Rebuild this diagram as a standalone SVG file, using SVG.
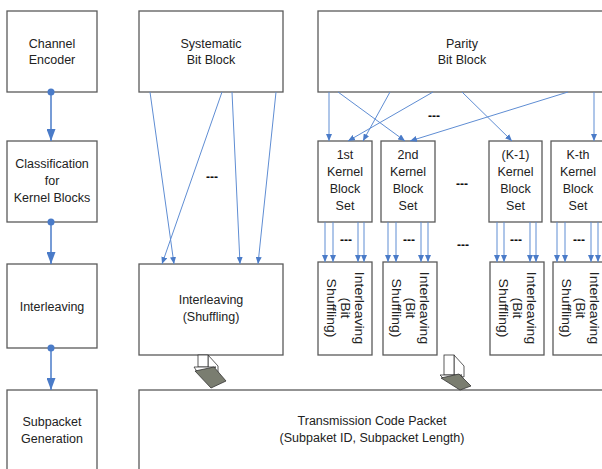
<svg xmlns="http://www.w3.org/2000/svg" width="602" height="469" viewBox="0 0 602 469">
<style>
.box{fill:#fff;stroke:#5a5a5a;stroke-width:1.3}
.t{font-family:"Liberation Sans",Arial,sans-serif;font-size:12.5px;fill:#222;text-anchor:middle}
.d{font-family:"Liberation Sans",Arial,sans-serif;font-size:12px;font-weight:bold;fill:#111;text-anchor:middle}
.c{stroke:#5f8dd3;stroke-width:1;fill:none;marker-end:url(#a)}
.m{stroke:#4a7bc8;stroke-width:1.5;fill:none;marker-end:url(#b)}
.f3{fill:#fff;stroke:#333;stroke-width:0.8}
.dk{fill:#7a7d70;stroke:#333;stroke-width:0.8}
</style>
<defs>
<marker id="a" viewBox="0 0 7 6" refX="7" refY="3" markerWidth="7" markerHeight="6" orient="auto" markerUnits="userSpaceOnUse"><path d="M0,0L7,3L0,6z" fill="#4a7bc8"/></marker>
<marker id="b" viewBox="0 0 12 9" refX="12" refY="4.5" markerWidth="12" markerHeight="9" orient="auto" markerUnits="userSpaceOnUse"><path d="M0,0L12,4.5L0,9z" fill="#4a7bc8"/></marker>
</defs>
<rect width="602" height="469" fill="#fff"/>

<g id="channel-encoder"><rect class="box" x="7" y="11" width="90" height="81"/>
<text class="t" x="52" y="47.7">Channel</text><text class="t" x="52" y="64.3">Encoder</text></g>
<g id="classification"><rect class="box" x="7" y="141" width="90" height="81"/>
<text class="t" x="52" y="168.3">Classification</text><text class="t" x="52" y="185.3">for</text><text class="t" x="52" y="202.3">Kernel Blocks</text></g>
<g id="interleaving"><rect class="box" x="7" y="264" width="90" height="84"/>
<text class="t" x="52" y="311">Interleaving</text></g>
<g id="subpacket-generation"><rect class="box" x="7" y="390" width="90" height="100"/>
<text class="t" x="52" y="426">Subpacket</text><text class="t" x="52" y="442.7">Generation</text></g>

<g id="systematic"><rect class="box" x="139" y="11" width="144" height="81"/>
<text class="t" x="211" y="47.7">Systematic</text><text class="t" x="211" y="64.3">Bit Block</text></g>
<g id="interleaving-shuffling"><rect class="box" x="139" y="264" width="144" height="91"/>
<text class="t" x="211" y="304">Interleaving</text><text class="t" x="211" y="320.7">(Shuffling)</text></g>
<g id="transmission"><rect class="box" x="139" y="390" width="466" height="100"/>
<text class="t" x="372" y="425">Transmission Code Packet</text><text class="t" x="372" y="441.7">(Subpaket ID, Subpacket Length)</text></g>

<g id="parity"><rect class="box" x="318" y="11" width="288" height="81"/>
<text class="t" x="462" y="47.7">Parity</text><text class="t" x="462" y="64.3">Bit Block</text></g>

<g id="kernel-1"><rect class="box" x="318" y="141" width="54" height="81"/>
<text class="t" x="345" y="159.3">1st</text><text class="t" x="345" y="176.3">Kernel</text><text class="t" x="345" y="193.3">Block</text><text class="t" x="345" y="210.3">Set</text></g>
<g id="kernel-2"><rect class="box" x="381" y="141" width="54" height="81"/>
<text class="t" x="408" y="159.3">2nd</text><text class="t" x="408" y="176.3">Kernel</text><text class="t" x="408" y="193.3">Block</text><text class="t" x="408" y="210.3">Set</text></g>
<g id="kernel-k1"><rect class="box" x="489" y="141" width="53" height="81"/>
<text class="t" x="515.5" y="159.3">(K-1)</text><text class="t" x="515.5" y="176.3">Kernel</text><text class="t" x="515.5" y="193.3">Block</text><text class="t" x="515.5" y="210.3">Set</text></g>
<g id="kernel-k"><rect class="box" x="551" y="141" width="54" height="81"/>
<text class="t" x="578" y="159.3">K-th</text><text class="t" x="578" y="176.3">Kernel</text><text class="t" x="578" y="193.3">Block</text><text class="t" x="578" y="210.3">Set</text></g>

<g id="bitshuf-1"><rect class="box" x="318" y="262" width="54" height="93"/>
<g transform="translate(345,308) rotate(90) scale(1.12,1)"><text class="t" x="0" y="-10">Interleaving</text><text class="t" x="0" y="4">(Bit</text><text class="t" x="0" y="18">Shuffling)</text></g></g>
<g id="bitshuf-2"><rect class="box" x="383" y="262" width="54" height="93"/>
<g transform="translate(410,308) rotate(90) scale(1.12,1)"><text class="t" x="0" y="-10">Interleaving</text><text class="t" x="0" y="4">(Bit</text><text class="t" x="0" y="18">Shuffling)</text></g></g>
<g id="bitshuf-k1"><rect class="box" x="490" y="262" width="54" height="93"/>
<g transform="translate(517,308) rotate(90) scale(1.12,1)"><text class="t" x="0" y="-10">Interleaving</text><text class="t" x="0" y="4">(Bit</text><text class="t" x="0" y="18">Shuffling)</text></g></g>
<g id="bitshuf-k"><rect class="box" x="553" y="262" width="54" height="93"/>
<g transform="translate(580,308) rotate(90) scale(1.12,1)"><text class="t" x="0" y="-10">Interleaving</text><text class="t" x="0" y="4">(Bit</text><text class="t" x="0" y="18">Shuffling)</text></g></g>

<g id="connectors">
<line class="m" x1="51" y1="92" x2="51" y2="141"/>
<line class="m" x1="51" y1="222" x2="51" y2="264"/>
<line class="m" x1="51" y1="348" x2="51" y2="390"/>
<circle cx="51" cy="92" r="3.5" fill="#4a7bc8"/>
<circle cx="51" cy="222" r="3.5" fill="#4a7bc8"/>
<circle cx="51" cy="348" r="3.5" fill="#4a7bc8"/>

<line class="c" x1="150" y1="92" x2="174" y2="264"/>
<line class="c" x1="222" y1="92" x2="162" y2="264"/>
<line class="c" x1="232" y1="92" x2="240" y2="264"/>
<line class="c" x1="276" y1="92" x2="258" y2="264"/>

<line class="c" x1="329" y1="92" x2="329" y2="141"/>
<line class="c" x1="338" y1="92" x2="405" y2="141"/>
<line class="c" x1="390" y1="92" x2="363" y2="141"/>
<line class="c" x1="433" y1="92" x2="348" y2="141"/>
<line class="c" x1="462" y1="92" x2="512" y2="141"/>
<line class="c" x1="568" y1="92" x2="410" y2="141"/>
<line class="c" x1="594" y1="92" x2="594" y2="141"/>

<line class="c" x1="325" y1="222" x2="325" y2="262"/>
<line class="c" x1="333" y1="222" x2="333" y2="262"/>
<line class="c" x1="358" y1="222" x2="358" y2="262"/>
<line class="c" x1="364" y1="222" x2="364" y2="262"/>
<line class="c" x1="388" y1="222" x2="388" y2="262"/>
<line class="c" x1="396" y1="222" x2="396" y2="262"/>
<line class="c" x1="421" y1="222" x2="421" y2="262"/>
<line class="c" x1="428" y1="222" x2="428" y2="262"/>
<line class="c" x1="497" y1="222" x2="497" y2="262"/>
<line class="c" x1="504" y1="222" x2="504" y2="262"/>
<line class="c" x1="530" y1="222" x2="530" y2="262"/>
<line class="c" x1="536" y1="222" x2="536" y2="262"/>
<line class="c" x1="557" y1="222" x2="557" y2="262"/>
<line class="c" x1="565" y1="222" x2="565" y2="262"/>
<line class="c" x1="591" y1="222" x2="591" y2="262"/>
<line class="c" x1="598" y1="222" x2="598" y2="262"/>

<text class="d" x="212" y="181">---</text>
<text class="d" x="434" y="120">---</text>
<text class="d" x="462" y="188">---</text>
<text class="d" x="346" y="244">---</text>
<text class="d" x="409" y="244">---</text>
<text class="d" x="463" y="249">---</text>
<text class="d" x="516" y="244">---</text>
<text class="d" x="579" y="244">---</text>

<g id="arrow3d-1">
<polygon class="f3" points="208,355 218,366 218,374 208,367"/>
<rect class="f3" x="198" y="355" width="10" height="12"/>
<polygon class="f3" points="194,367 216,367 209,371 198,373"/>
<polygon class="dk" points="195,371 214,367 226,381 211,388"/>
</g>
<g id="arrow3d-2">
<polygon class="f3" points="454,355 464,366 464,377 454,375"/>
<rect class="f3" x="444" y="355" width="10" height="20"/>
<polygon class="f3" points="440,375 462,375 455,378 444,379"/>
<polygon class="dk" points="441,378 459,374 471,386 460,390"/>
</g>
</g>
</svg>
